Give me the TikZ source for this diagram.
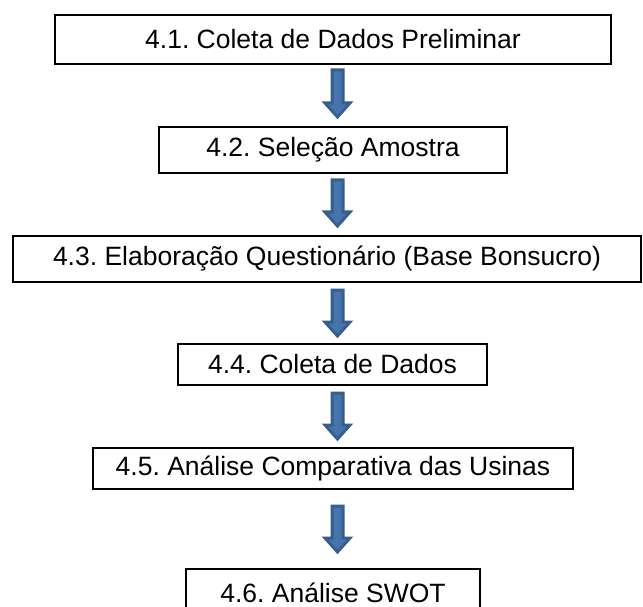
\documentclass[tikz,border=0pt]{standalone}
\usepackage{fontspec}
\setmainfont{Liberation Sans}
\frenchspacing
\usetikzlibrary{calc}
\definecolor{arrowfill}{HTML}{4674AC}
\definecolor{arrowline}{HTML}{385E8E}
\tikzset{
  stagebox/.style={draw=black, line width=2.6pt, rectangle, inner sep=0pt,
    font=\fontsize{26.5pt}{30pt}\selectfont},
  blockarrow/.style={fill=arrowfill, draw=arrowline, line width=3pt, line join=miter}
}
\newcommand\blockarrow[2]{%
  \path[blockarrow] ($(#1)+(-5.5pt,0)$) -- ($(#2)+(-5.5pt,14pt)$) -- ($(#2)+(-12.5pt,14pt)$) -- (#2)
    -- ($(#2)+(12.5pt,14pt)$) -- ($(#2)+(5.5pt,14pt)$) -- ($(#1)+(5.5pt,0)$) -- cycle;}
\begin{document}
\begin{tikzpicture}[x=1pt,y=-1pt]
\useasboundingbox (0,0) rectangle (643,607);
\fill[white] (0,0) rectangle (643,607);
\begin{scope}
\clip (0,0) rectangle (643,607);
\node[stagebox, minimum width=556pt, minimum height=49pt] (b1) at (333,39.5) {4.1. Coleta de Dados Preliminar};
\node[stagebox, minimum width=348pt, minimum height=46pt] (b2) at (333,150) {4.2. Seleção Amostra};
\node[stagebox, minimum width=628pt, minimum height=46pt] (b3) at (327,259) {4.3. Elaboração Questionário (Base Bonsucro)};
\node[stagebox, minimum width=309pt, minimum height=41pt] (b4) at (332.5,364.5) {4.4. Coleta de Dados};
\node[stagebox, minimum width=480pt, minimum height=41pt] (b5) at (333,468.5) {4.5. Análise Comparativa das Usinas};
\node[stagebox, minimum width=294pt, minimum height=47pt] (b6) at (333,592.5) {4.6. Análise SWOT};
\end{scope}
\coordinate (a1s) at (337.5,70);  \coordinate (a1e) at (337.5,117);
\coordinate (a2s) at (337.5,180); \coordinate (a2e) at (337.5,226);
\coordinate (a3s) at (337.5,290); \coordinate (a3e) at (337.5,336);
\coordinate (a4s) at (337.5,393); \coordinate (a4e) at (337.5,439);
\coordinate (a5s) at (337.5,506); \coordinate (a5e) at (337.5,552);
\blockarrow{a1s}{a1e}
\blockarrow{a2s}{a2e}
\blockarrow{a3s}{a3e}
\blockarrow{a4s}{a4e}
\blockarrow{a5s}{a5e}
\end{tikzpicture}
\end{document}
